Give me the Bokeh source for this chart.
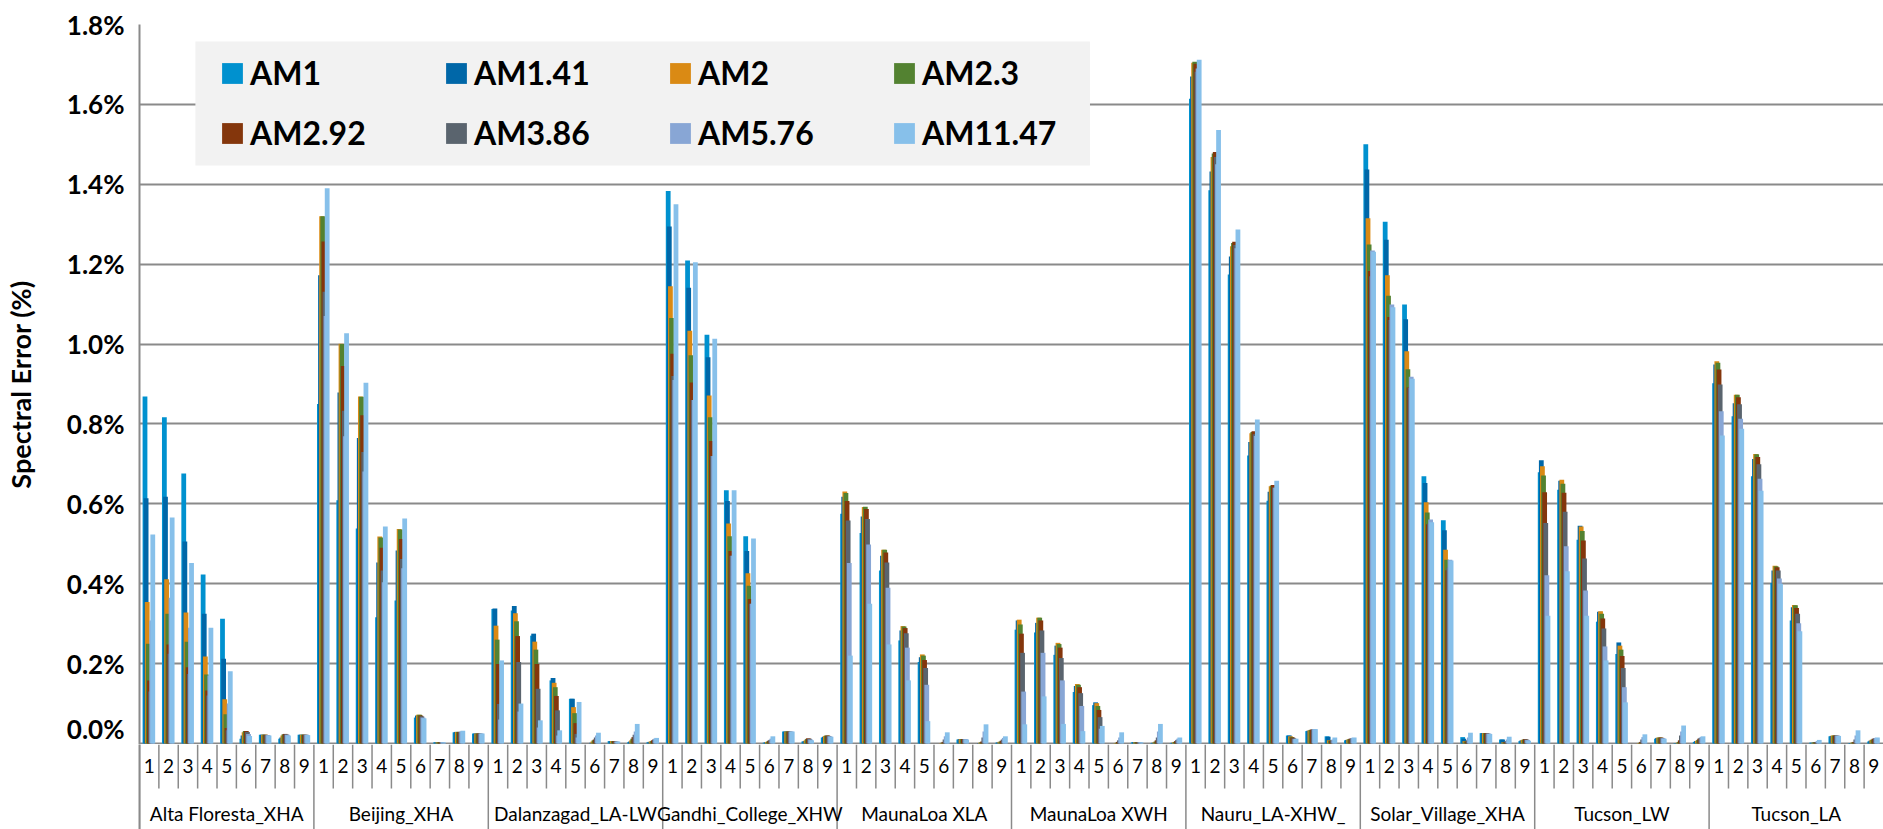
import numpy as np
from bokeh.plotting import figure
from bokeh.layouts import column
from bokeh.models import (FactorRange, Range1d, ColumnDataSource, FixedTicker,
                          PrintfTickFormatter, Legend, LegendItem, BoxAnnotation)
from bokeh.transform import dodge
from bokeh.core.properties import value
from bokeh.embed import file_html
from bokeh.resources import INLINE

sites = ["Alta Floresta_XHA", "Beijing_XHA", "Dalanzagad_LA-LW", "Gandhi_College_XHW",
         "MaunaLoa XLA", "MaunaLoa XWH", "Nauru_LA-XHW_", "Solar_Village_XHA",
         "Tucson_LW", "Tucson_LA"]
subs = ["1", "2", "3", "4", "5", "6", "7", "8", "9"]
series = ["AM1", "AM1.41", "AM2", "AM2.3", "AM2.92", "AM3.86", "AM5.76", "AM11.47"]
colors = ["#0091CF", "#0067A8", "#DA8A14", "#538231", "#84360C", "#5A646E", "#88A6D5", "#87C0EA"]
yticks = [0.0, 0.2, 0.4, 0.6, 0.8, 1.0, 1.2, 1.4, 1.6, 1.8]

# values in %, 9 sub-categories per site, sites in order
AM1 = [0.869, 0.817, 0.676, 0.423, 0.312, 0.012, 0.022, 0.012, 0.022,
       0.850, 0.609, 0.538, 0.316, 0.358, 0.065, 0.003, 0.028, 0.025,
       0.337, 0.333, 0.270, 0.158, 0.112, 0.000, 0.006, 0.003, 0.003,
       1.383, 1.209, 1.023, 0.634, 0.519, 0.002, 0.030, 0.005, 0.015,
       0.575, 0.527, 0.433, 0.258, 0.204, 0.000, 0.010, 0.000, 0.002,
       0.285, 0.278, 0.222, 0.129, 0.096, 0.000, 0.003, 0.001, 0.001,
       1.614, 1.385, 1.174, 0.721, 0.608, 0.020, 0.031, 0.018, 0.008,
       1.500, 1.306, 1.099, 0.669, 0.559, 0.016, 0.026, 0.010, 0.006,
       0.679, 0.635, 0.510, 0.305, 0.224, 0.000, 0.012, 0.001, 0.004,
       0.902, 0.819, 0.669, 0.402, 0.308, 0.002, 0.018, 0.001, 0.005]
AM1_41 = [0.614, 0.618, 0.506, 0.325, 0.212, 0.020, 0.022, 0.015, 0.022,
          1.172, 0.879, 0.765, 0.453, 0.483, 0.070, 0.003, 0.029, 0.025,
          0.338, 0.344, 0.275, 0.164, 0.112, 0.002, 0.006, 0.005, 0.004,
          1.294, 1.141, 0.967, 0.607, 0.482, 0.003, 0.030, 0.006, 0.017,
          0.618, 0.568, 0.470, 0.283, 0.216, 0.000, 0.011, 0.001, 0.003,
          0.308, 0.302, 0.245, 0.144, 0.103, 0.000, 0.003, 0.002, 0.002,
          1.670, 1.432, 1.219, 0.755, 0.630, 0.020, 0.032, 0.017, 0.009,
          1.437, 1.261, 1.062, 0.652, 0.534, 0.012, 0.026, 0.010, 0.008,
          0.709, 0.658, 0.545, 0.330, 0.253, 0.000, 0.014, 0.001, 0.006,
          0.949, 0.852, 0.712, 0.433, 0.341, 0.002, 0.019, 0.001, 0.007]
AM2 = [0.354, 0.411, 0.328, 0.218, 0.111, 0.028, 0.022, 0.020, 0.022,
       1.320, 1.001, 0.869, 0.518, 0.537, 0.072, 0.003, 0.029, 0.025,
       0.295, 0.326, 0.255, 0.152, 0.091, 0.005, 0.006, 0.008, 0.005,
       1.145, 1.033, 0.871, 0.551, 0.426, 0.004, 0.030, 0.008, 0.019,
       0.631, 0.592, 0.485, 0.294, 0.223, 0.001, 0.011, 0.002, 0.004,
       0.310, 0.315, 0.252, 0.149, 0.101, 0.001, 0.003, 0.003, 0.003,
       1.704, 1.468, 1.245, 0.777, 0.644, 0.018, 0.033, 0.008, 0.010,
       1.315, 1.172, 0.982, 0.604, 0.485, 0.006, 0.026, 0.003, 0.009,
       0.694, 0.660, 0.543, 0.331, 0.245, 0.001, 0.015, 0.002, 0.007,
       0.957, 0.873, 0.725, 0.445, 0.347, 0.002, 0.020, 0.002, 0.009]
AM2_3 = [0.250, 0.325, 0.255, 0.173, 0.073, 0.031, 0.022, 0.023, 0.022,
         1.320, 1.000, 0.868, 0.516, 0.536, 0.072, 0.003, 0.029, 0.025,
         0.260, 0.306, 0.235, 0.141, 0.076, 0.008, 0.006, 0.012, 0.006,
         1.065, 0.972, 0.817, 0.519, 0.395, 0.005, 0.030, 0.011, 0.020,
         0.627, 0.593, 0.485, 0.293, 0.220, 0.002, 0.011, 0.003, 0.005,
         0.298, 0.315, 0.249, 0.147, 0.094, 0.002, 0.003, 0.005, 0.004,
         1.707, 1.477, 1.253, 0.780, 0.646, 0.016, 0.034, 0.007, 0.011,
         1.249, 1.121, 0.937, 0.578, 0.460, 0.005, 0.026, 0.003, 0.010,
         0.671, 0.650, 0.532, 0.325, 0.235, 0.002, 0.015, 0.004, 0.009,
         0.953, 0.873, 0.724, 0.444, 0.346, 0.003, 0.020, 0.003, 0.010]
AM2_92 = [0.158, 0.248, 0.191, 0.133, 0.039, 0.031, 0.022, 0.024, 0.022,
          1.257, 0.945, 0.822, 0.490, 0.512, 0.070, 0.003, 0.029, 0.025,
          0.199, 0.269, 0.199, 0.119, 0.051, 0.010, 0.006, 0.016, 0.008,
          0.976, 0.904, 0.757, 0.482, 0.362, 0.007, 0.030, 0.013, 0.020,
          0.607, 0.587, 0.478, 0.289, 0.209, 0.004, 0.011, 0.005, 0.007,
          0.275, 0.308, 0.240, 0.141, 0.084, 0.004, 0.003, 0.008, 0.006,
          1.702, 1.481, 1.256, 0.782, 0.647, 0.015, 0.035, 0.007, 0.012,
          1.183, 1.068, 0.891, 0.549, 0.434, 0.005, 0.026, 0.004, 0.011,
          0.629, 0.628, 0.508, 0.313, 0.219, 0.004, 0.015, 0.008, 0.012,
          0.936, 0.867, 0.717, 0.441, 0.339, 0.003, 0.020, 0.004, 0.012]
AM3_86 = [0.130, 0.225, 0.174, 0.120, 0.033, 0.029, 0.021, 0.023, 0.022,
          1.131, 0.833, 0.730, 0.433, 0.462, 0.068, 0.003, 0.029, 0.025,
          0.099, 0.204, 0.137, 0.083, 0.024, 0.015, 0.005, 0.022, 0.010,
          0.920, 0.860, 0.720, 0.470, 0.350, 0.009, 0.030, 0.012, 0.019,
          0.558, 0.562, 0.453, 0.276, 0.189, 0.010, 0.011, 0.015, 0.010,
          0.227, 0.283, 0.214, 0.126, 0.066, 0.008, 0.003, 0.015, 0.009,
          1.682, 1.468, 1.248, 0.774, 0.641, 0.013, 0.035, 0.008, 0.013,
          1.170, 1.060, 0.890, 0.550, 0.440, 0.008, 0.025, 0.006, 0.010,
          0.552, 0.580, 0.463, 0.288, 0.189, 0.010, 0.014, 0.020, 0.014,
          0.899, 0.849, 0.699, 0.433, 0.325, 0.004, 0.020, 0.010, 0.013]
AM5_76 = [0.308, 0.365, 0.290, 0.170, 0.100, 0.024, 0.021, 0.022, 0.022,
          1.070, 0.769, 0.681, 0.404, 0.439, 0.065, 0.003, 0.030, 0.025,
          0.060, 0.080, 0.040, 0.020, 0.015, 0.020, 0.005, 0.030, 0.012,
          0.910, 0.860, 0.720, 0.470, 0.350, 0.012, 0.030, 0.010, 0.018,
          0.452, 0.498, 0.390, 0.240, 0.147, 0.018, 0.011, 0.030, 0.014,
          0.130, 0.227, 0.158, 0.094, 0.037, 0.015, 0.003, 0.030, 0.012,
          1.690, 1.450, 1.240, 0.770, 0.640, 0.011, 0.036, 0.010, 0.014,
          1.234, 1.099, 0.918, 0.561, 0.460, 0.015, 0.025, 0.010, 0.009,
          0.421, 0.494, 0.383, 0.243, 0.141, 0.016, 0.013, 0.030, 0.016,
          0.832, 0.813, 0.663, 0.413, 0.301, 0.006, 0.020, 0.020, 0.014]
AM11_47 = [0.523, 0.566, 0.452, 0.290, 0.181, 0.019, 0.020, 0.020, 0.021,
           1.390, 1.027, 0.903, 0.543, 0.563, 0.063, 0.003, 0.032, 0.025,
           0.208, 0.100, 0.058, 0.033, 0.104, 0.027, 0.005, 0.049, 0.014,
           1.350, 1.205, 1.013, 0.634, 0.513, 0.018, 0.030, 0.008, 0.017,
           0.220, 0.350, 0.248, 0.158, 0.056, 0.028, 0.010, 0.048, 0.018,
           0.048, 0.118, 0.049, 0.031, 0.044, 0.028, 0.003, 0.049, 0.015,
           1.712, 1.536, 1.287, 0.811, 0.658, 0.012, 0.036, 0.015, 0.015,
           1.231, 1.092, 0.913, 0.554, 0.458, 0.027, 0.024, 0.017, 0.007,
           0.320, 0.431, 0.320, 0.208, 0.103, 0.023, 0.012, 0.045, 0.018,
           0.771, 0.788, 0.633, 0.400, 0.281, 0.009, 0.019, 0.033, 0.015]

values_list = [AM1, AM1_41, AM2, AM2_3, AM2_92, AM3_86, AM5_76, AM11_47]

factors = [(s, c) for s in sites for c in subs]

FONT = "Lato"
GRID = "#8a8a8a"
Y_TOP_MIN = -0.0025
Y_BOTTOM = -0.2153

x_range = FactorRange(*factors, group_padding=0, subgroup_padding=0,
                      factor_padding=0, range_padding=0)

# ---------------- main chart ----------------
p = figure(x_range=x_range, y_range=Range1d(Y_TOP_MIN, 1.8),
           width=1883, height=744, output_backend="svg", toolbar_location=None,
           x_axis_location=None, min_border_left=136, min_border_right=0,
           min_border_top=24, min_border_bottom=0, outline_line_color=None,
           background_fill_color="white", border_fill_color="white")

data = {"x": factors}
for i, vals in enumerate(values_list):
    data[f"s{i}"] = vals
src = ColumnDataSource(data)

bar_w = 0.247
step = 0.0574
first = -0.2166
renderers = []
for i, name in enumerate(series):
    r = p.vbar(x=dodge("x", first + i * step, range=x_range), top=f"s{i}", width=bar_w,
               source=src, fill_color=colors[i], line_color=None)
    renderers.append(r)

yax = p.yaxis[0]
yax.ticker = FixedTicker(ticks=yticks)
yax.formatter = PrintfTickFormatter(format="%.1f%%")
yax.major_label_text_font = FONT
yax.major_label_text_font_style = "bold"
yax.major_label_text_font_size = "26px"
yax.major_label_text_color = "black"
yax.major_tick_line_color = None
yax.minor_tick_line_color = None
yax.major_tick_out = 0
yax.major_tick_in = 0
yax.major_label_standoff = 15
yax.axis_line_color = GRID
yax.axis_line_width = 2
yax.axis_label = "Spectral Error (%)"
yax.axis_label_text_font = FONT
yax.axis_label_text_font_style = "bold"
yax.axis_label_text_font_size = "27px"
yax.axis_label_text_color = "black"
yax.axis_label_standoff = 27

p.ygrid.ticker = FixedTicker(ticks=yticks)
p.ygrid.grid_line_color = GRID
p.ygrid.grid_line_width = 2
p.xgrid.visible = False

# legend background + legend
p.add_layout(BoxAnnotation(left=2.885, right=49.05, top=1.7574, bottom=1.4470,
                           fill_color="#f2f2f2", fill_alpha=1.0, line_color=None))
legend = Legend(items=[LegendItem(label=n, renderers=[r]) for n, r in zip(series, renderers)],
                location=(80, 592), orientation="horizontal", ncols=4,
                glyph_width=26, glyph_height=26, label_standoff=5, label_width=172,
                label_height=26, spacing=21, padding=0, margin=0,
                background_fill_alpha=0, border_line_alpha=0,
                label_text_font=FONT, label_text_font_style="bold",
                label_text_font_size="32px", label_text_color="black")
p.add_layout(legend)

# ---------------- category label strip ----------------
p2 = figure(x_range=x_range, y_range=Range1d(Y_BOTTOM, Y_TOP_MIN),
            width=1883, height=85, output_backend="svg", toolbar_location=None,
            x_axis_location=None, min_border_left=136, min_border_right=0,
            min_border_top=0, min_border_bottom=0, outline_line_color=None,
            background_fill_color="white", border_fill_color="white")
p2.xgrid.visible = False
p2.ygrid.visible = False
ax2 = p2.yaxis[0]
ax2.ticker = FixedTicker(ticks=[])
ax2.major_label_text_font_size = "0px"
ax2.major_tick_line_color = None
ax2.minor_tick_line_color = None
ax2.axis_line_color = GRID
ax2.axis_line_width = 2

sep_src = ColumnDataSource(dict(x=factors,
                                y1=[Y_BOTTOM if c == "1" else -0.1127 for s, c in factors]))
p2.segment(x0=dodge("x", -0.5, range=x_range), y0=Y_TOP_MIN, x1=dodge("x", -0.5, range=x_range),
           y1="y1", source=sep_src, line_color=GRID, line_width=1.5)

lab_src = ColumnDataSource(dict(x=factors, t=[c for s, c in factors]))
p2.text(x="x", y=-0.0551, text="t", source=lab_src, text_font=value(FONT),
        text_font_size="19px", text_align="center", text_baseline="middle", text_color="black")

grp_src = ColumnDataSource(dict(x=sites, t=sites))
p2.text(x="x", y=-0.1753, text="t", source=grp_src, text_font=value(FONT),
        text_font_size="19px", text_align="center", text_baseline="middle", text_color="black")

layout = column(p, p2, spacing=0)
open("out.html", "w").write(file_html(layout, INLINE))
